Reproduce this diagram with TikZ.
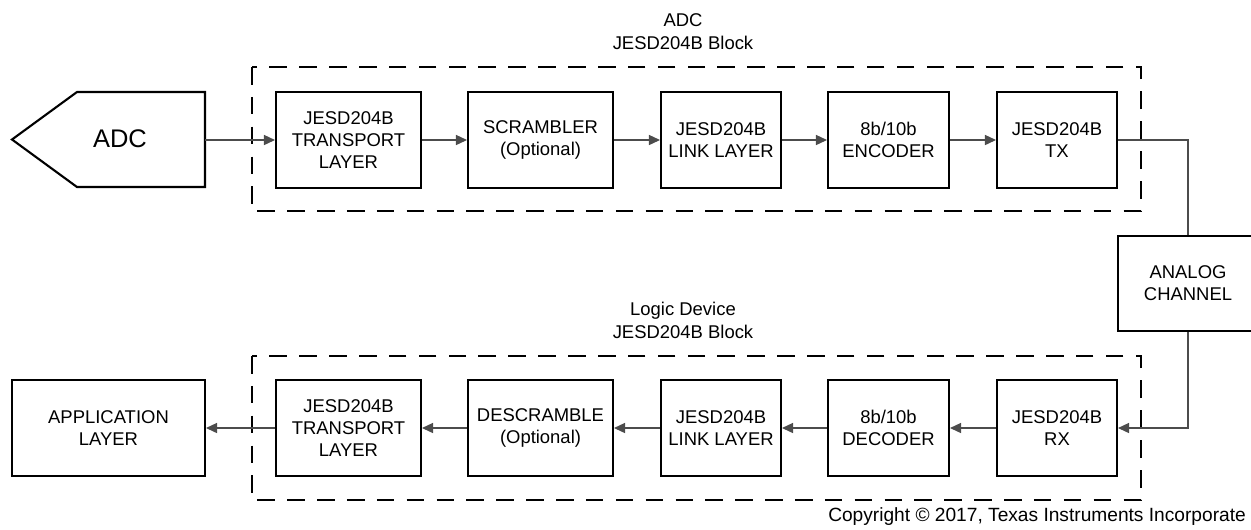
\documentclass[tikz,border=0pt]{standalone}
\usepackage{fontspec}
\setmainfont{Liberation Sans}
\usetikzlibrary{arrows.meta}
\tikzset{
  blk/.style={draw, line width=1.2pt, minimum height=1.92cm, inner sep=0pt, align=center, font=\fontsize{10.5}{12.6}\selectfont},
  grp/.style={line width=1.1pt, dash pattern=on 10pt off 7pt},
  wire/.style={draw=black!70, line width=0.6pt},
  sig/.style={wire, -{Triangle[length=6.3pt,width=5.8pt]}},
  ttl/.style={align=center, font=\fontsize{10.5}{13}\selectfont},
}
\begin{document}
\begin{tikzpicture}[x=0.02cm, y=-0.02cm]
        \clip (0,0) rectangle (1251,529);
        %blocco ADC
        \node[ttl] (adcttl) at (683,32) {ADC\\JESD204B Block};
        \draw[grp] (252,67) rectangle (1141,211);
        \draw[line width=1.2pt] (77,92) -- (205,92) -- (205,187) -- (77,187) -- (12,139.5) -- cycle; %ADC
        \node[font=\fontsize{14.5}{17}\selectfont] (adc) at (120,139) {ADC};
        \coordinate (adcout) at (205,140);
        \node[blk, minimum width=2.9cm] (tptx) at (348.5,140) {JESD204B\\TRANSPORT\\LAYER};
        \node[blk, minimum width=2.9cm] (scr) at (540.5,140) {SCRAMBLER\\(Optional)};
        \node[blk, minimum width=2.4cm] (lnktx) at (721,140) {JESD204B\\LINK LAYER};
        \node[blk, minimum width=2.42cm] (enc) at (888.5,140) {8b/10b\\ENCODER};
        \node[blk, minimum width=2.4cm] (tx) at (1057,140) {JESD204B\\TX};
        \draw[sig] (adcout) -- (tptx);
        \draw[sig] (tptx) -- (scr);
        \draw[sig] (scr) -- (lnktx);
        \draw[sig] (lnktx) -- (enc);
        \draw[sig] (enc) -- (tx);
        %canale
        \node[blk, minimum width=2.8cm, minimum height=1.9cm] (ach) at (1188,283.5) {ANALOG\\CHANNEL};
        \draw[wire] (tx.east) -| (ach.north);
        %blocco logic device
        \node[ttl] (logttl) at (683,320) {Logic Device\\JESD204B Block};
        \draw[grp] (252,356) rectangle (1141,500);
        \node[blk, minimum width=2.4cm] (rx) at (1057,428) {JESD204B\\RX};
        \node[blk, minimum width=2.42cm] (dec) at (888.5,428) {8b/10b\\DECODER};
        \node[blk, minimum width=2.4cm] (lnkrx) at (721,428) {JESD204B\\LINK LAYER};
        \node[blk, minimum width=2.9cm] (dscr) at (540.5,428) {DESCRAMBLE\\(Optional)};
        \node[blk, minimum width=2.9cm] (tprx) at (348.5,428) {JESD204B\\TRANSPORT\\LAYER};
        \node[blk, minimum width=3.86cm] (app) at (108.5,428) {APPLICATION\\LAYER};
        \draw[sig] (ach.south) |- (rx.east);
        \draw[sig] (rx) -- (dec);
        \draw[sig] (dec) -- (lnkrx);
        \draw[sig] (lnkrx) -- (dscr);
        \draw[sig] (dscr) -- (tprx);
        \draw[sig] (tprx) -- (app);
        \node[anchor=east, font=\fontsize{10.9}{12}\selectfont] (copy) at (1252,517) {Copyright © 2017, Texas Instruments Incorporate};
\end{tikzpicture}
\end{document}
